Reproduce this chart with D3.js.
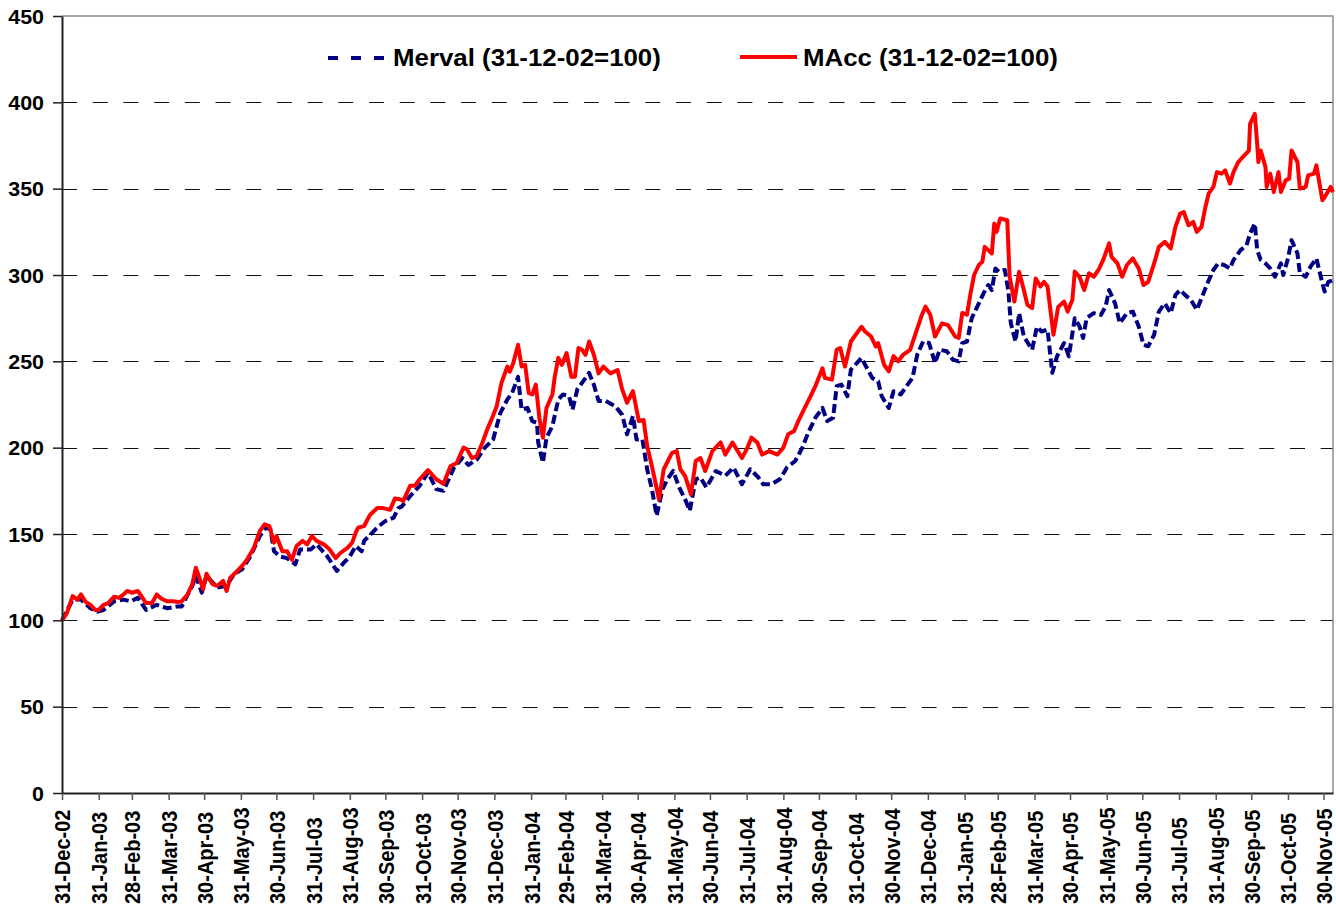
<!DOCTYPE html>
<html>
<head>
<meta charset="utf-8">
<script src="https://cdn.jsdelivr.net/npm/d3@7"></script>
<style>
  body { margin: 0; background: #fff; }
  text { font-family: "Liberation Sans", Arial, sans-serif; font-weight: bold; fill: #000; }
</style>
</head>
<body>
<div id="container"></div>
<script>
// index values (31-12-02 = 100)
var merval = [
  ["2002-12-31",100],["2003-01-09",112],["2003-01-16",112],["2003-01-24",107],["2003-01-30",105],
  ["2003-02-04",106],["2003-02-13",111],["2003-02-21",112],["2003-02-27",111],["2003-03-05",113],
  ["2003-03-12",106],["2003-03-21",109],["2003-03-30",107],["2003-04-07",108],["2003-04-11",108],
  ["2003-04-20",120],["2003-04-23",125.7],["2003-04-28",116],["2003-05-02",125.7],["2003-05-11",119],
  ["2003-05-19",120],["2003-05-25",126.6],["2003-06-01",129.5],["2003-06-08",137],["2003-06-16",148.8],
  ["2003-06-21",153.7],["2003-06-25",152.7],["2003-06-28",140],["2003-07-03",137],["2003-07-09",136],
  ["2003-07-16",132.4],["2003-07-20",141],["2003-07-29",141],["2003-08-03",144],["2003-08-12",137],
  ["2003-08-20",128.6],["2003-08-26",133.4],["2003-08-31",137],["2003-09-05",143],["2003-09-10",140],
  ["2003-09-12",146],["2003-09-19",150.8],["2003-09-23",153.7],["2003-09-30",157.5],["2003-10-07",159.5],
  ["2003-10-11",165],["2003-10-14",166],["2003-10-21",172],["2003-10-29",178],["2003-11-05",185.6],
  ["2003-11-12",176],["2003-11-18",175],["2003-11-27",188.5],["2003-12-04",194],["2003-12-09",190],
  ["2003-12-16",193],["2003-12-23",200],["2003-12-30",204.8],["2004-01-05",220],["2004-01-11",228],
  ["2004-01-15",231.7],["2004-01-20",241],["2004-01-23",222],["2004-01-28",223],["2004-02-01",215.4],
  ["2004-02-05",214.4],["2004-02-06",203],["2004-02-10",191.3],["2004-02-13",205.8],["2004-02-18",212.5],
  ["2004-02-23",227.9],["2004-02-27",230.8],["2004-03-03",229.8],["2004-03-06",222],["2004-03-10",233.7],
  ["2004-03-14",237.5],["2004-03-20",243.3],["2004-03-24",236.5],["2004-03-28",227],["2004-04-03",227],
  ["2004-04-11",224],["2004-04-17",219],["2004-04-21",207.7],["2004-04-26",218.3],["2004-04-29",204.8],
  ["2004-05-04",204.8],["2004-05-08",187.5],["2004-05-12",176],["2004-05-16",160.6],["2004-05-21",176],
  ["2004-05-25",181.7],["2004-05-30",186.5],["2004-06-04",177],["2004-06-09",170.2],["2004-06-13",163.5],
  ["2004-06-18",181.7],["2004-06-22",182.7],["2004-06-27",177],["2004-07-05",186.5],["2004-07-13",183.7],
  ["2004-07-20",188.5],["2004-07-27",178.8],["2004-08-03",187.5],["2004-08-10",182.7],["2004-08-14",178.8],
  ["2004-08-21",178.8],["2004-08-28",181.7],["2004-09-03",188.5],["2004-09-10",192.3],["2004-09-16",200],
  ["2004-09-21",208.7],["2004-09-27",217.3],["2004-10-03",223],["2004-10-07",215.4],["2004-10-12",217.3],
  ["2004-10-15",235.6],["2004-10-19",236.5],["2004-10-24",229.8],["2004-10-27",245.2],["2004-11-01",249],
  ["2004-11-05",252],["2004-11-08",248],["2004-11-14",240.4],["2004-11-19",238.5],["2004-11-22",229.8],
  ["2004-11-28",223],["2004-12-02",232.7],["2004-12-08",230.8],["2004-12-13",235.6],["2004-12-18",240.4],
  ["2004-12-22",253.8],["2004-12-27",261.5],["2005-01-01",260.6],["2005-01-06",249],["2005-01-10",256.7],
  ["2005-01-16",255.8],["2005-01-21",251],["2005-01-26",250],["2005-01-29",260.6],["2005-02-02",261.5],
  ["2005-02-06",275],["2005-02-12",283.6],["2005-02-16",289.4],["2005-02-20",294.2],["2005-02-23",291.3],
  ["2005-02-26",303.8],["2005-03-01",301.9],["2005-03-06",302.9],["2005-03-09",290.4],["2005-03-11",272],
  ["2005-03-15",261.5],["2005-03-18",277.9],["2005-03-22",264.4],["2005-03-29",256.7],["2005-04-02",270],
  ["2005-04-06",267.3],["2005-04-11",268.3],["2005-04-15",243.3],["2005-04-19",252.9],["2005-04-25",260.6],
  ["2005-04-29",252.9],["2005-05-04",275],["2005-05-08",270.2],["2005-05-11",263.5],["2005-05-14",275],
  ["2005-05-20",277.9],["2005-05-26",276.9],["2005-05-30",281.7],["2005-06-02",291.3],["2005-06-07",283.6],
  ["2005-06-11",272],["2005-06-17",277.9],["2005-06-22",278.8],["2005-06-27",270.2],["2005-07-01",259.6],
  ["2005-07-05",258.7],["2005-07-10",265.4],["2005-07-14",278.8],["2005-07-19",283.6],["2005-07-24",277.9],
  ["2005-07-28",288.5],["2005-08-01",291.3],["2005-08-05",288.5],["2005-08-10",285.6],["2005-08-15",279.8],
  ["2005-08-19",286.5],["2005-08-24",295.2],["2005-08-29",302.9],["2005-09-02",306.7],["2005-09-07",305.8],
  ["2005-09-12",303.8],["2005-09-15",308.7],["2005-09-21",314.4],["2005-09-26",317.3],["2005-09-29",324],
  ["2005-10-03",329.8],["2005-10-05",314.4],["2005-10-08",308.7],["2005-10-12",306.7],["2005-10-16",303.8],
  ["2005-10-20",299],["2005-10-25",306.7],["2005-10-27",300],["2005-10-31",309.6],["2005-11-03",320.2],
  ["2005-11-08",312.5],["2005-11-10",301],["2005-11-15",299],["2005-11-19",304.8],["2005-11-24",309.6],
  ["2005-11-29",295.2],["2005-12-01",290.4],["2005-12-04",296],["2005-12-08",297]
];

var macc = [
  ["2002-12-31",100],["2003-01-04",104],["2003-01-09",114],["2003-01-13",112],["2003-01-16",115],
  ["2003-01-20",110.6],["2003-01-24",109],["2003-01-28",106],["2003-01-31",106],["2003-02-04",109],
  ["2003-02-08",110],["2003-02-13",113.7],["2003-02-17",113],["2003-02-21",115],["2003-02-24",117],
  ["2003-02-28",116],["2003-03-05",117],["2003-03-09",113],["2003-03-12",110],["2003-03-17",110],
  ["2003-03-21",115],["2003-03-25",112.5],["2003-03-30",111],["2003-04-04",111],["2003-04-08",110.6],
  ["2003-04-11",111],["2003-04-16",115],["2003-04-20",121],["2003-04-23",130.5],["2003-04-26",124.7],
  ["2003-04-29",118],["2003-05-02",127],["2003-05-07",121],["2003-05-11",120],["2003-05-16",122.8],
  ["2003-05-19",117],["2003-05-22",124.7],["2003-05-28",128.6],["2003-06-01",131.5],["2003-06-05",135],
  ["2003-06-11",142],["2003-06-16",151.7],["2003-06-20",155.6],["2003-06-24",154.6],["2003-06-28",145],
  ["2003-06-30",148.8],["2003-07-05",140],["2003-07-09",140],["2003-07-13",135],["2003-07-17",143],
  ["2003-07-22",146],["2003-07-26",144],["2003-07-30",148.8],["2003-08-03",146],["2003-08-09",144],
  ["2003-08-14",141],["2003-08-19",136],["2003-08-23",139],["2003-08-29",142],["2003-09-02",145],
  ["2003-09-05",150.8],["2003-09-07",153.7],["2003-09-12",154.6],["2003-09-17",161],["2003-09-23",165],
  ["2003-09-28",165],["2003-10-04",164],["2003-10-08",170.5],["2003-10-13",170],["2003-10-15",169],
  ["2003-10-21",178],["2003-10-25",178],["2003-10-29",181.7],["2003-11-05",187],["2003-11-12",181.7],
  ["2003-11-18",179],["2003-11-24",189.4],["2003-11-29",191],["2003-12-05",200],["2003-12-08",199],
  ["2003-12-12",194],["2003-12-16",195],["2003-12-21",203],["2003-12-25",210.6],["2003-12-29",217],
  ["2004-01-02",224],["2004-01-06",237.5],["2004-01-11",247],["2004-01-13",244],["2004-01-16",249],
  ["2004-01-20",259.6],["2004-01-23",247],["2004-01-26",248],["2004-01-29",231.7],["2004-02-01",230.8],
  ["2004-02-04",236.5],["2004-02-07",217.3],["2004-02-10",205.8],["2004-02-13",223],["2004-02-18",230.8],
  ["2004-02-20",241],["2004-02-23",252],["2004-02-26",248],["2004-03-01",254.8],["2004-03-05",241],
  ["2004-03-08",241],["2004-03-11",257.7],["2004-03-14",256.7],["2004-03-17",253.8],["2004-03-20",261.5],
  ["2004-03-24",253.8],["2004-03-28",243],["2004-04-01",247],["2004-04-07",243],["2004-04-13",245],
  ["2004-04-17",233.6],["2004-04-21",226],["2004-04-26",232.7],["2004-05-01",215.4],["2004-05-05",216],
  ["2004-05-08",201],["2004-05-12",189.4],["2004-05-15",179.8],["2004-05-18",170],["2004-05-22",187.5],
  ["2004-05-26",193],["2004-05-29",197],["2004-06-02",198],["2004-06-05",187.5],["2004-06-09",183.6],
  ["2004-06-14",173],["2004-06-18",192.3],["2004-06-22",194],["2004-06-26",186.5],["2004-07-02",198],
  ["2004-07-09",203],["2004-07-13",196],["2004-07-19",203],["2004-07-27",194],["2004-07-31",199],
  ["2004-08-04",205.8],["2004-08-09",203],["2004-08-13",196],["2004-08-19",198],["2004-08-26",196],
  ["2004-08-31",200],["2004-09-04",207.7],["2004-09-09",209.6],["2004-09-13",216],["2004-09-18",223],
  ["2004-09-23",229.8],["2004-09-27",235.6],["2004-10-03",246],["2004-10-05",240.4],["2004-10-11",239.4],
  ["2004-10-15",256.7],["2004-10-18",257.7],["2004-10-22",247],["2004-10-27",261.5],["2004-10-31",265.4],
  ["2004-11-05",270],["2004-11-08",267.3],["2004-11-13",264.4],["2004-11-17",258.6],["2004-11-19",260.6],
  ["2004-11-24",248],["2004-11-28",244.2],["2004-12-02",253],["2004-12-06",250],["2004-12-10",253.8],
  ["2004-12-16",256.7],["2004-12-22",269],["2004-12-26",277],["2004-12-29",281.7],["2005-01-02",277],
  ["2005-01-06",264.4],["2005-01-12",272],["2005-01-17",271],["2005-01-23",264.4],["2005-01-26",263.5],
  ["2005-01-29",278],["2005-02-02",277],["2005-02-05",289.4],["2005-02-08",300],["2005-02-12",305.8],
  ["2005-02-15",307.7],["2005-02-17",316.3],["2005-02-20",314.4],["2005-02-23",312.5],["2005-02-25",329.8],
  ["2005-02-27",325],["2005-03-02",332.7],["2005-03-08",331.7],["2005-03-10",299],["2005-03-14",284.6],
  ["2005-03-18",301.9],["2005-03-22",291.3],["2005-03-25",282.7],["2005-03-29",280.8],["2005-04-01",298],
  ["2005-04-05",293.3],["2005-04-08",296],["2005-04-11",293.3],["2005-04-16",265.4],["2005-04-20",281.5],
  ["2005-04-25",284.6],["2005-04-28",278.8],["2005-05-02",285.6],["2005-05-04",302],["2005-05-08",299],
  ["2005-05-12",291.3],["2005-05-16",301],["2005-05-20",299],["2005-05-24",302.9],["2005-05-28",308.7],
  ["2005-06-02",318.3],["2005-06-04",310.6],["2005-06-09",306.7],["2005-06-13",299],["2005-06-17",305.8],
  ["2005-06-22",309.6],["2005-06-27",303.8],["2005-07-01",294.2],["2005-07-05",296],["2005-07-10",306.7],
  ["2005-07-14",316.3],["2005-07-19",319.2],["2005-07-24",315.4],["2005-07-28",327.9],["2005-08-01",335.6],
  ["2005-08-04",336.5],["2005-08-08",328.8],["2005-08-12",330.8],["2005-08-15",325],["2005-08-19",327.9],
  ["2005-08-22",338.5],["2005-08-25",347.1],["2005-08-29",351],["2005-09-01",359.6],["2005-09-05",358.7],
  ["2005-09-08",360.6],["2005-09-12",352.9],["2005-09-15",359.6],["2005-09-19",365.4],["2005-09-24",369.2],
  ["2005-09-28",372.1],["2005-09-29",387.5],["2005-10-03",393.3],["2005-10-05",376],["2005-10-06",365.4],
  ["2005-10-08",372.1],["2005-10-12",362.5],["2005-10-13",351],["2005-10-16",358.7],["2005-10-19",348],
  ["2005-10-23",359.6],["2005-10-25",348],["2005-10-29",354.8],["2005-11-01",355.8],["2005-11-03",372.1],
  ["2005-11-08",365.4],["2005-11-10",350],["2005-11-15",351],["2005-11-17",357.7],["2005-11-22",358.7],
  ["2005-11-24",363.5],["2005-11-29",343.3],["2005-12-01",345.2],["2005-12-06",351],["2005-12-08",348]
];

var tickDates = [
  "2002-12-31","2003-01-31","2003-02-28","2003-03-31","2003-04-30","2003-05-31","2003-06-30",
  "2003-07-31","2003-08-31","2003-09-30","2003-10-31","2003-11-30","2003-12-31","2004-01-31",
  "2004-02-29","2004-03-31","2004-04-30","2004-05-31","2004-06-30","2004-07-31","2004-08-31",
  "2004-09-30","2004-10-31","2004-11-30","2004-12-31","2005-01-31","2005-02-28","2005-03-31",
  "2005-04-30","2005-05-31","2005-06-30","2005-07-31","2005-08-31","2005-09-30","2005-10-31",
  "2005-11-30"
];
var yTicks = [0, 50, 100, 150, 200, 250, 300, 350, 400, 450];
var seriesNames = ["Merval (31-12-02=100)", "MAcc (31-12-02=100)"];
var xStart = "2002-12-31", xEnd = "2005-12-08";

var width = 1336,
    height = 905,
    margin = { left: 62, top: 16, right: 3, bottom: 112 },
    g_width = width - margin.left - margin.right,
    g_height = height - margin.top - margin.bottom;

var parse = d3.timeParse("%Y-%m-%d"),
    fmt = d3.timeFormat("%d-%b-%y"),
    stretch = "scale(1.1,1)";

var svg = d3.select("#container")
            .append("svg")
            .attr("width", width)
            .attr("height", height);

var g = svg.append("g")
           .attr("transform", "translate(" + margin.left + "," + margin.top + ")");

var scale_x = d3.scaleTime()
                .domain([parse(xStart), parse(xEnd)])
                .range([0, g_width]);

var scale_y = d3.scaleLinear()
                .domain([0, 450])
                .range([g_height, 0]);

// dashed gridlines
g.selectAll(".grid")
  .data(yTicks.filter(function(d) { return d > 0 && d < 450; }))
  .enter().append("line")
  .attr("x1", 0).attr("x2", g_width)
  .attr("y1", function(d) { return Math.round(scale_y(d)) + 0.5; })
  .attr("y2", function(d) { return Math.round(scale_y(d)) + 0.5; })
  .attr("stroke", "#111")
  .attr("stroke-width", 1)
  .attr("stroke-dasharray", "15,15.7");

// top / right border of the plot area
g.append("path")
  .attr("d", "M0," + scale_y(450) + "H" + g_width + "V" + g_height)
  .attr("fill", "none")
  .attr("stroke", "#8c8c8c")
  .attr("stroke-width", 1.5);

var line_generator = d3.line()
  .x(function(d) { return scale_x(parse(d[0])); })
  .y(function(d) { return scale_y(d[1]); });

g.append("path")
  .attr("d", line_generator(merval))
  .attr("fill", "none")
  .attr("stroke", "#000080")
  .attr("stroke-width", 4)
  .attr("stroke-dasharray", "9,4")
  .attr("stroke-linejoin", "round");

g.append("path")
  .attr("d", line_generator(macc))
  .attr("fill", "none")
  .attr("stroke", "#ff0000")
  .attr("stroke-width", 4)
  .attr("stroke-linejoin", "round");

// axes
var x_axis = d3.axisBottom(scale_x)
               .tickValues(tickDates.map(parse))
               .tickFormat(fmt)
               .tickSize(7)
               .tickSizeOuter(0);

var y_axis = d3.axisLeft(scale_y)
               .tickValues(yTicks)
               .tickSize(9)
               .tickSizeOuter(0);

var gx = g.append("g")
          .attr("transform", "translate(0," + g_height + ")")
          .call(x_axis);
gx.select(".domain").attr("stroke", "#222").attr("stroke-width", 2);
gx.selectAll(".tick line").attr("stroke", "#555").attr("stroke-width", 1.5);
gx.selectAll(".tick text")
  .attr("x", 0).attr("y", 0)
  .attr("dy", "0.36em")
  .attr("transform", "translate(0,111) " + stretch + " rotate(-90)")
  .style("text-anchor", "start")
  .style("font-size", "20px");

var gy = g.append("g").call(y_axis);
gy.select(".domain").attr("stroke", "#222").attr("stroke-width", 2);
gy.selectAll(".tick line").attr("stroke", "#222").attr("stroke-width", 1.5);
gy.selectAll(".tick text")
  .attr("x", 0)
  .attr("dy", "0.36em")
  .attr("transform", "translate(-18,0) " + stretch)
  .style("font-size", "19.5px");

// legend
var legend = svg.append("g");
legend.append("line")
  .attr("x1", 328).attr("x2", 384).attr("y1", 58).attr("y2", 58)
  .attr("stroke", "#000080").attr("stroke-width", 4)
  .attr("stroke-dasharray", "10,13");
legend.append("text")
  .attr("transform", "translate(393,66) " + stretch)
  .style("font-size", "23.5px")
  .text(seriesNames[0]);
legend.append("line")
  .attr("x1", 740).attr("x2", 797).attr("y1", 57).attr("y2", 57)
  .attr("stroke", "#ff0000").attr("stroke-width", 4);
legend.append("text")
  .attr("transform", "translate(803,66) " + stretch)
  .style("font-size", "23.5px")
  .text(seriesNames[1]);
</script>
</body>
</html>
